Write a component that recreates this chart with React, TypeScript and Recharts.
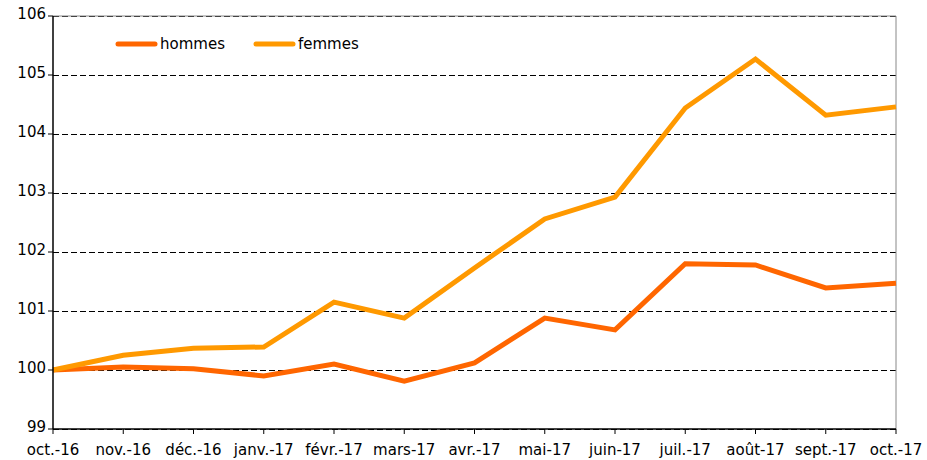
import { LineChart, Line, CartesianGrid, XAxis, YAxis, ReferenceLine } from 'recharts';

const months = [
  'oct.-16', 'nov.-16', 'déc.-16', 'janv.-17', 'févr.-17', 'mars-17', 'avr.-17',
  'mai-17', 'juin-17', 'juil.-17', 'août-17', 'sept.-17', 'oct.-17',
];
const hommes = [100, 100.05, 100.02, 99.9, 100.1, 99.81, 100.12, 100.88, 100.68, 101.8, 101.78, 101.39, 101.47];
const femmes = [100, 100.25, 100.37, 100.39, 101.15, 100.88, 101.73, 102.56, 102.93, 104.44, 105.27, 104.32, 104.46];
const yTicks = [99, 100, 101, 102, 103, 104, 105, 106];

const series = [
  { key: 'hommes', color: '#FF6600' },
  { key: 'femmes', color: '#FF9900' },
];

const font = '"DejaVu Sans", sans-serif';

// legend drawn over the plot, like in the original
function LegendBox() {
  return (
    <div
      style={{
        position: 'absolute', left: 114, top: 34, display: 'flex',
        fontFamily: font, fontSize: 15, color: '#000', lineHeight: '20px',
      }}
    >
      {series.map((s) => (
        <div key={s.key} style={{ display: 'flex', alignItems: 'center', width: 138 }}>
          <svg width={46} height={8}>
            <line x1={4} y1={4} x2={41} y2={4} stroke={s.color} strokeWidth={5} strokeLinecap="round" />
          </svg>
          <span>{s.key}</span>
        </div>
      ))}
    </div>
  );
}

export default function App() {
  const data = months.map((m, i) => ({ month: m, hommes: hommes[i], femmes: femmes[i] }));
  return (
    <div style={{ position: 'absolute', left: 0, top: 0, background: '#fff' }}>
      <LineChart width={927} height={460} data={data} margin={{ top: 16, right: 31, bottom: 0, left: 0 }}>
        <CartesianGrid vertical={false} stroke="#000" strokeDasharray="6 3" shapeRendering="crispEdges" />
        <XAxis
          dataKey="month"
          height={31}
          tickLine={{ stroke: '#000' }}
          axisLine={{ stroke: '#000', strokeWidth: 1.5 }}
          tickSize={5}
          interval={0}
          tick={{ fill: '#000', fontSize: 15, fontFamily: font, dy: 8 }}
        />
        <YAxis
          width={53}
          domain={[99, 106]}
          ticks={yTicks}
          tickLine={{ stroke: '#000' }}
          axisLine={{ stroke: '#000', strokeWidth: 1.5 }}
          tickSize={5}
          tick={{ fill: '#000', fontSize: 15, fontFamily: font, dy: -2 }}
        />
        <ReferenceLine y={106} stroke="#888" />
        <ReferenceLine x="oct.-17" stroke="#888" />
        {series.map((s) => (
          <Line
            key={s.key}
            type="linear"
            dataKey={s.key}
            stroke={s.color}
            strokeWidth={5}
            dot={false}
            isAnimationActive={false}
          />
        ))}
      </LineChart>
      <LegendBox />
    </div>
  );
}
